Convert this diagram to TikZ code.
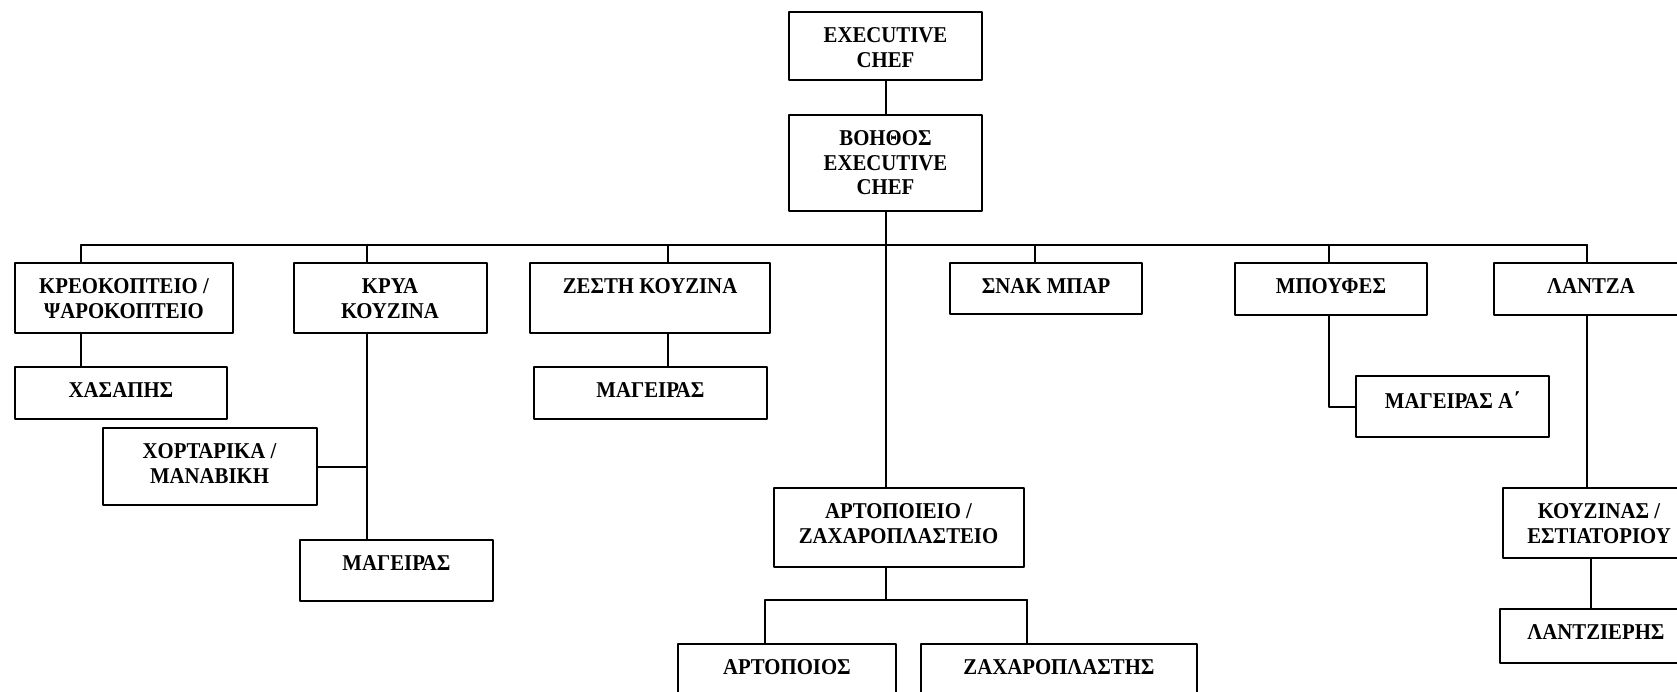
\documentclass[tikz,border=0pt]{standalone}
\usepackage{fontspec}
\setmainfont{Liberation Serif}[FakeStretch=0.92]
\usetikzlibrary{positioning}

\begin{document}
\begin{tikzpicture}[line cap=round,line join=round,x=1pt,y=-1pt,
		font=\fontsize{22.6}{24.5}\selectfont\bfseries,
		unit/.style={draw,line width=2pt,inner sep=0pt,anchor=north},
		tag/.style={anchor=north,yshift=-16.5pt,inner sep=0pt,align=center},
		link/.style={line width=2pt}]
		\useasboundingbox (0,0) rectangle (1677,691);
		\clip (0,0) rectangle (1677,691);
		% top of the chart
		\node [unit,minimum width=193,minimum height=68,label={[tag]north:{EXECUTIVE\\CHEF}}] (exec) at (885.5,11) {};
		\node [unit,minimum width=193,minimum height=96,label={[tag]north:{ΒΟΗΘΟΣ\\EXECUTIVE\\CHEF}}] (aide) at (885.5,114) {};
		% first row
		\node [unit,minimum width=218,minimum height=70,label={[tag]north:{ΚΡΕΟΚΟΠΤΕΙΟ /\\ΨΑΡΟΚΟΠΤΕΙΟ}}] (meat) at (124,262) {};
		\node [unit,minimum width=193,minimum height=70,label={[tag]north:{ΚΡΥΑ\\ΚΟΥΖΙΝΑ}}] (cold) at (390,262) {};
		\node [unit,minimum width=240,minimum height=70,label={[tag]north:{ΖΕΣΤΗ ΚΟΥΖΙΝΑ}}] (hot) at (650,262) {};
		\node [unit,minimum width=192,minimum height=51,label={[tag]north:{ΣΝΑΚ ΜΠΑΡ}}] (snack) at (1046,262) {};
		\node [unit,minimum width=192,minimum height=52,label={[tag]north:{ΜΠΟΥΦΕΣ}}] (buffet) at (1331,262) {};
		\node [unit,minimum width=194,minimum height=52,label={[tag]north:{ΛΑΝΤΖΑ}}] (sink) at (1591,262) {};
		% lower rows
		\node [unit,minimum width=212,minimum height=52,label={[tag]north:{ΧΑΣΑΠΗΣ}}] (butcher) at (121,366) {};
		\node [unit,minimum width=214,minimum height=77,label={[tag]north:{ΧΟΡΤΑΡΙΚΑ /\\ΜΑΝΑΒΙΚΗ}}] (veg) at (209.5,427) {};
		\node [unit,minimum width=193,minimum height=61,label={[tag]north:{ΜΑΓΕΙΡΑΣ}}] (coldcook) at (396.5,539) {};
		\node [unit,minimum width=233,minimum height=52,label={[tag]north:{ΜΑΓΕΙΡΑΣ}}] (hotcook) at (650.5,366) {};
		\node [unit,minimum width=193,minimum height=61,label={[tag]north:{ΜΑΓΕΙΡΑΣ Α΄}}] (headcook) at (1452.5,375) {};
		\node [unit,minimum width=192,minimum height=70,label={[tag]north:{ΚΟΥΖΙΝΑΣ /\\ΕΣΤΙΑΤΟΡΙΟΥ}}] (kitchen) at (1599,487) {};
		\node [unit,minimum width=192,minimum height=54,label={[tag]north:{ΛΑΝΤΖΙΕΡΗΣ}}] (washer) at (1596,608) {};
		\node [unit,minimum width=250,minimum height=79,label={[tag]north:{ΑΡΤΟΠΟΙΕΙΟ /\\ΖΑΧΑΡΟΠΛΑΣΤΕΙΟ}}] (bakery) at (898.5,487) {};
		\node [unit,minimum width=218,minimum height=60,label={[tag]north:{ΑΡΤΟΠΟΙΟΣ}}] (baker) at (787,643) {};
		\node [unit,minimum width=276,minimum height=60,label={[tag]north:{ΖΑΧΑΡΟΠΛΑΣΤΗΣ}}] (pastry) at (1059,643) {};
		% junctions on the bus lines
		\coordinate (jmeat) at (81,245);
		\coordinate (jcold) at (367,245);
		\coordinate (jhot) at (668,245);
		\coordinate (jsnack) at (1035,245);
		\coordinate (jbuffet) at (1329,245);
		\coordinate (jsink) at (1587,245);
		\coordinate (jwash) at (1591,245);
		\coordinate (jbake) at (886,600);
		\coordinate (jbaker) at (765,600);
		\coordinate (jpastry) at (1027,600);
		% connectors
		\draw [link] (exec.south)-- (aide.north);
		\draw [link] (aide.south)-- (aide.south |- bakery.north);
		\draw [link] (jmeat)-- (jsink);
		\foreach \j/\n in {jmeat/meat,jcold/cold,jhot/hot,jsnack/snack,jbuffet/buffet,jsink/sink}
			\draw [link] (\j)-- (\j |- \n.north);
		\draw [link] (meat.south -| jmeat)-- (butcher.north -| jmeat);
		\draw [link] (cold.south -| jcold)-- (coldcook.north -| jcold);
		\draw [link] (veg.east)-- (veg.east -| jcold);
		\draw [link] (hot.south -| jhot)-- (hotcook.north -| jhot);
		\draw [link] (buffet.south -| jbuffet) |- (headcook.west);
		\draw [link] (sink.south -| jsink)-- (kitchen.north -| jsink);
		\draw [link] (kitchen.south -| jwash)-- (washer.north -| jwash);
		\draw [link] (bakery.south -| jbake)-- (jbake);
		\draw [link] (jbaker)-- (jpastry);
		\draw [link] (jbaker)-- (jbaker |- baker.north);
		\draw [link] (jpastry)-- (jpastry |- pastry.north);
	\end{tikzpicture}
\end{document}
